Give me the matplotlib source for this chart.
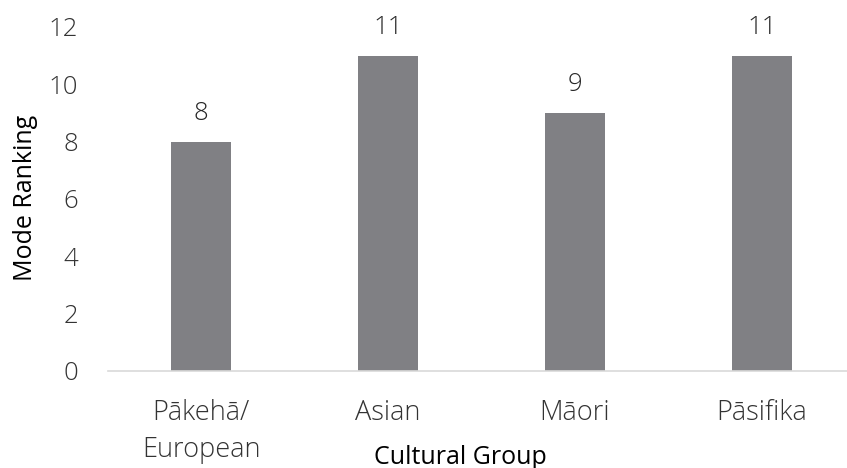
import matplotlib
matplotlib.use("Agg")
import matplotlib.pyplot as plt

groups = ["Pākehā/\nEuropean", "Asian", "Māori", "Pāsifika"]
mode_rank = [8, 11, 9, 11]

plt.rcParams['font.family'] = ['Open Sans', 'DejaVu Sans']

fig = plt.figure(figsize=(8.47, 4.68), dpi=100)
ax = fig.add_axes([107.5 / 847, 97 / 468, 748 / 847, 344 / 468])

x = range(len(groups))
bars = ax.bar(x, mode_rank, width=0.32, color="#808084", zorder=2)
for b, v in zip(bars, mode_rank):
    ax.text(b.get_x() + b.get_width() / 2, v + 0.55, str(v), ha="center", va="bottom",
            fontsize=18.5, color="#262626", fontweight="light")

ax.set_xlim(-0.5, 3.5)
ax.set_ylim(0, 12)
ax.set_yticks(range(0, 13, 2))
ax.set_xticks(list(x))
ax.set_xticklabels(groups, fontsize=19.5, color="#333333", fontweight="light", linespacing=1.43)
for lbl in ax.get_yticklabels():
    lbl.set_fontsize(18.5)
    lbl.set_color("#333333")
    lbl.set_fontweight("light")

ax.tick_params(axis="both", length=0)
ax.tick_params(axis="y", pad=21)
ax.tick_params(axis="x", pad=20)
for s in ["top", "right", "left"]:
    ax.spines[s].set_visible(False)
ax.spines["bottom"].set_color("#d9d9d9")
ax.spines["bottom"].set_linewidth(1.2)

fig.text(460 / 847, 1 - 457 / 468, "Cultural Group", ha="center", va="center",
         fontsize=18, color="black")
fig.text(25 / 847, 1 - 198 / 468, "Mode Ranking", ha="center", va="center",
         rotation=90, fontsize=18, color="black")

fig.savefig("out.png", dpi=100)
